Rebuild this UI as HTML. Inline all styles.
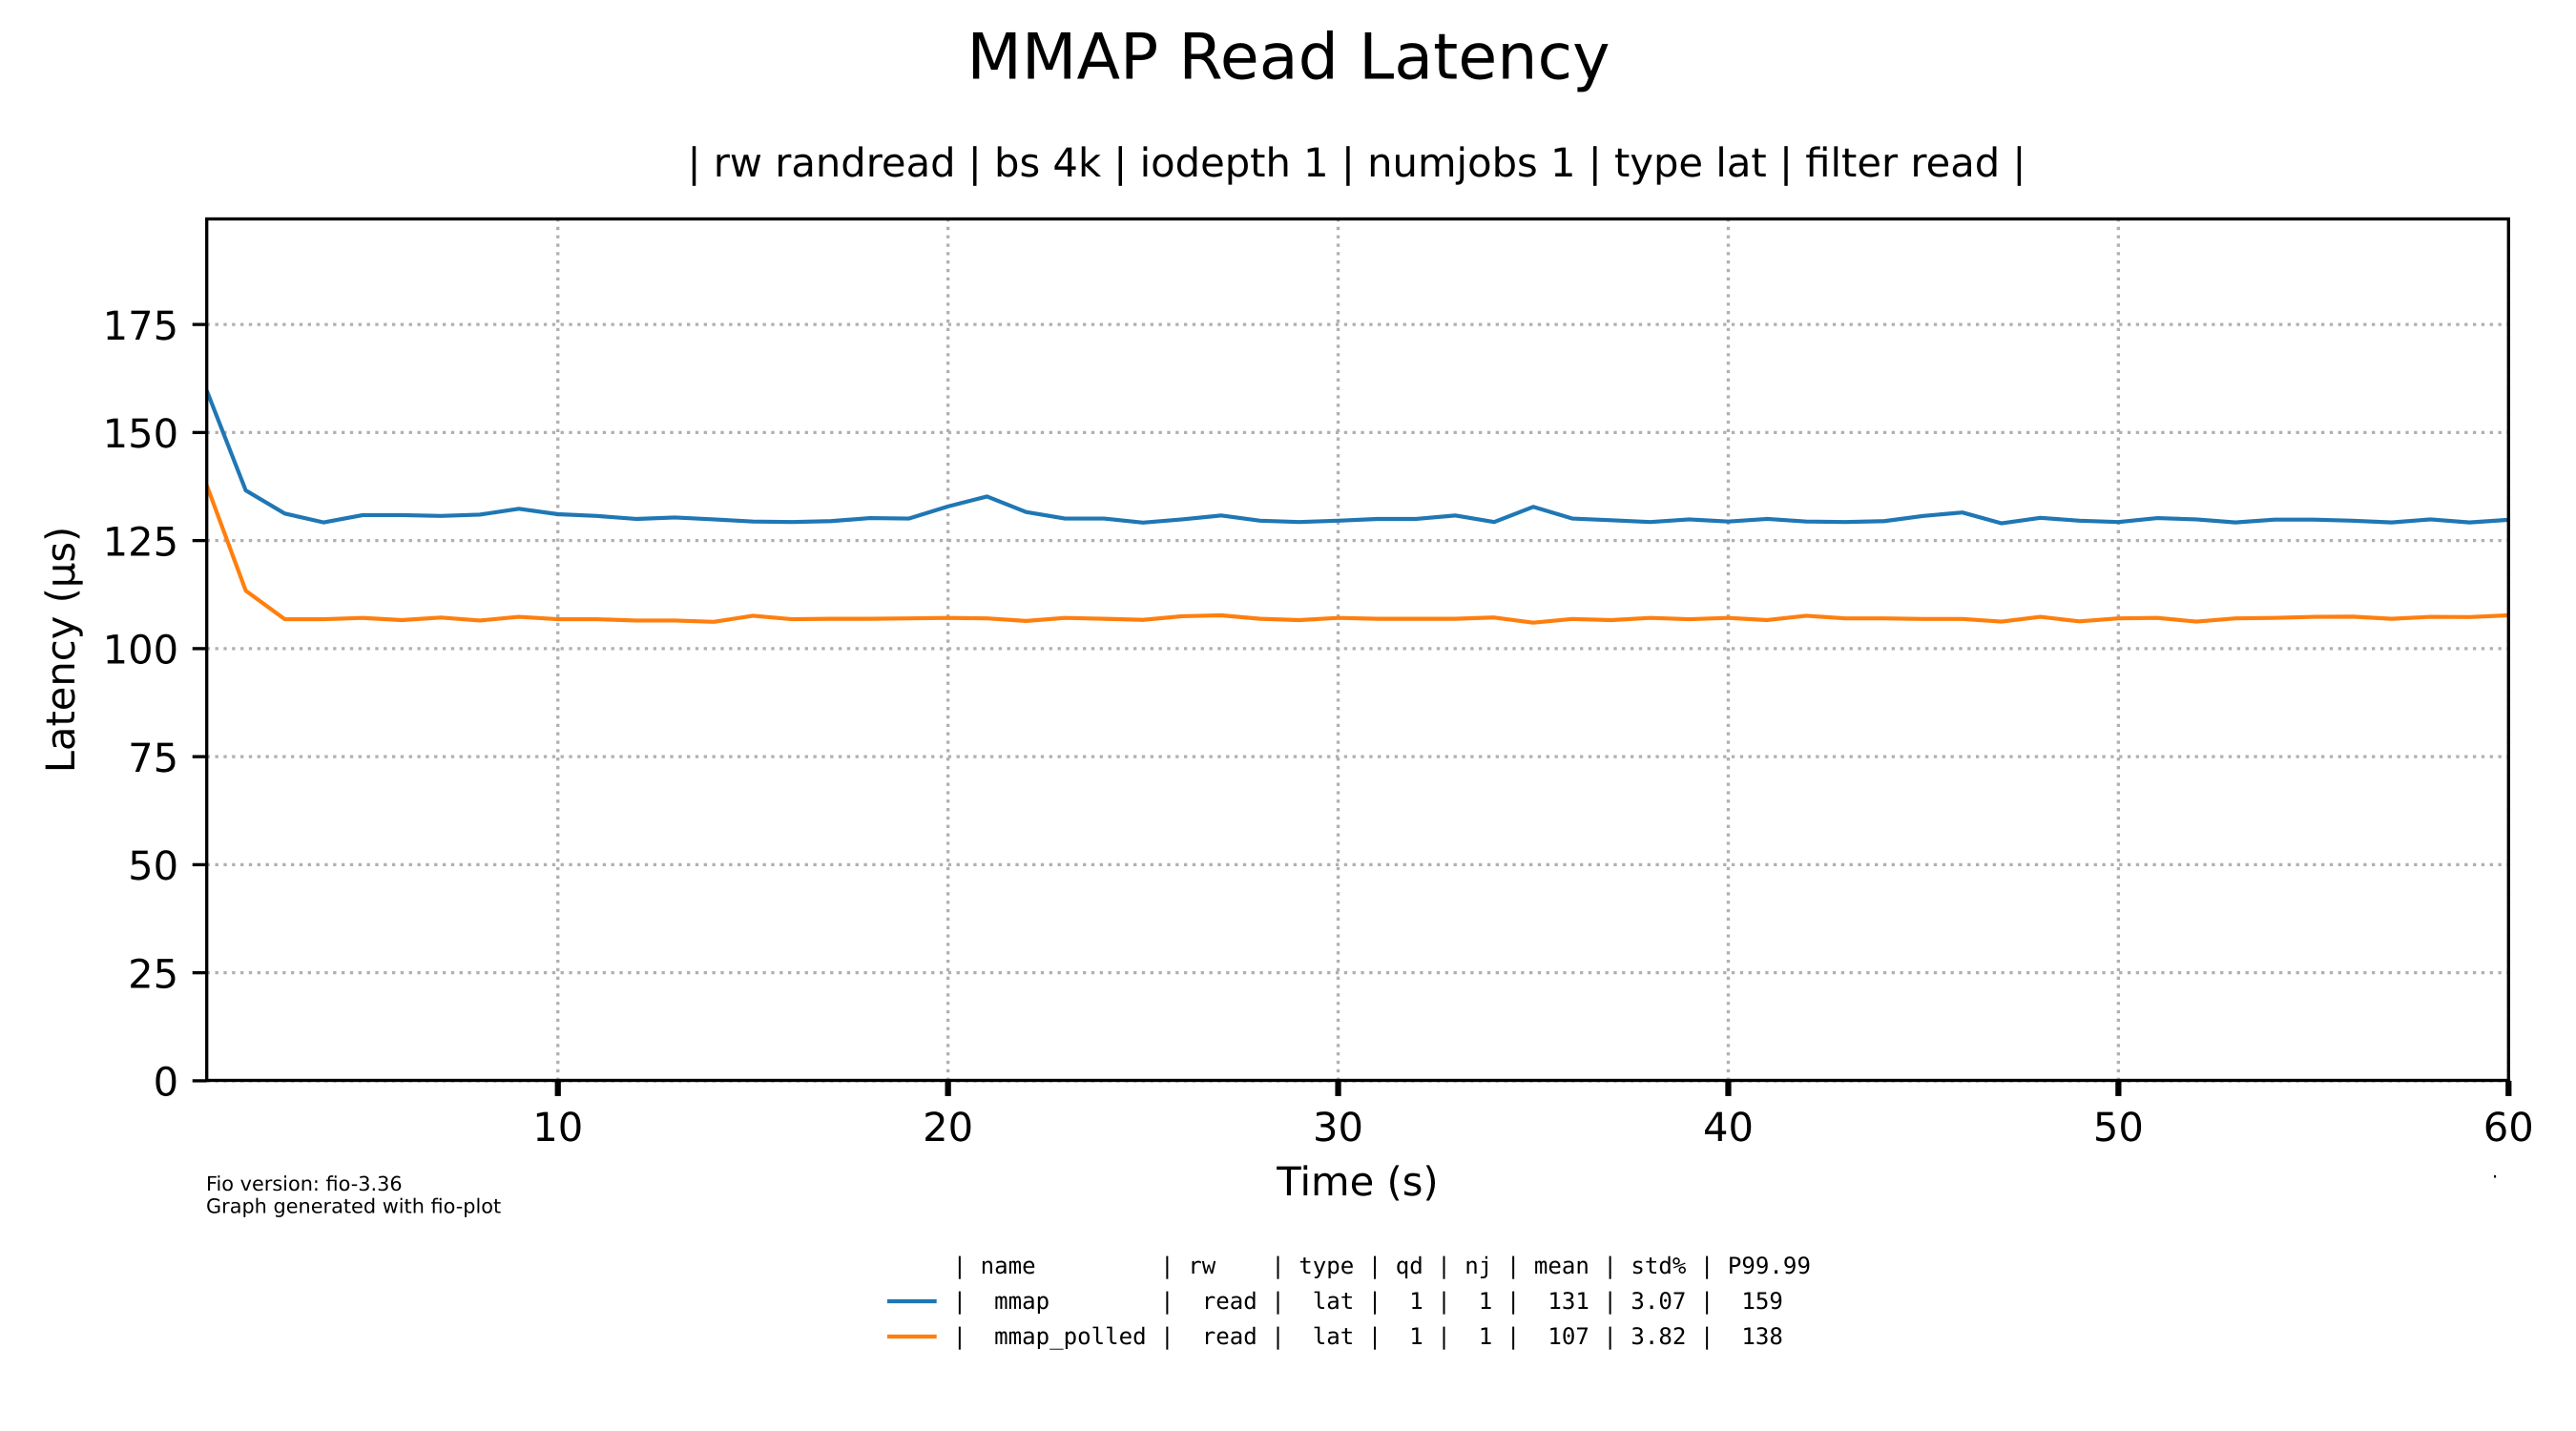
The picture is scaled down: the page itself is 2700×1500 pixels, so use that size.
<!DOCTYPE html>
<html lang="en">
<head>
<meta charset="utf-8">
<title>MMAP Read Latency</title>
<style>
html,body{margin:0;padding:0;background:#fff;width:2700px;height:1500px;overflow:hidden}
svg{display:block}
text{font-family:"DejaVu Sans","Liberation Sans",sans-serif;fill:#000;text-rendering:geometricPrecision}
.mono{font-family:"DejaVu Sans Mono","Liberation Mono",monospace;font-size:24.1px;white-space:pre}
</style>
</head>
<body>
<svg id="chart" xmlns="http://www.w3.org/2000/svg" width="2700" height="1500" viewBox="0 0 2700 1500">
  <defs><clipPath id="plot-clip"><rect x="216.7" y="229.5" width="2412.6" height="903"/></clipPath></defs>
  <rect x="0" y="0" width="2700" height="1500" fill="#fff"/>
  <text x="1350.5" y="82.5" font-size="66.67" text-anchor="middle">MMAP Read Latency</text>
  <text x="1422" y="185" font-size="41.67" text-anchor="middle">| rw randread | bs 4k | iodepth 1 | numjobs 1 | type lat | filter read |</text>
  <g id="grid"></g>
  <g id="series" clip-path="url(#plot-clip)"></g>
  <g id="ticks"></g>
  <rect x="216.7" y="229.5" width="2412.6" height="903" fill="none" stroke="#000" stroke-width="3.33"/>
  <text x="1423" y="1253" font-size="41.67" text-anchor="middle">Time (s)</text>
  <text transform="translate(78 681) rotate(-90)" font-size="41.67" text-anchor="middle">Latency (µs)</text>
  <text x="216" y="1248" font-size="20.83">Fio version: fio-3.36</text>
  <text x="216" y="1271.7" font-size="20.83">Graph generated with fio-plot</text>
  <text x="2611.7" y="1234.5" font-size="20.83">.</text>
  <g>
    <text class="mono" x="998.6" y="1335" xml:space="preserve">| name         | rw    | type | qd | nj | mean | std% | P99.99</text>
    <line x1="930" x2="981.7" y1="1364" y2="1364" stroke="#1f77b4" stroke-width="4.17"/>
    <text class="mono" x="998.6" y="1372" xml:space="preserve">|  mmap        |  read |  lat |  1 |  1 |  131 | 3.07 |  159</text>
    <line x1="930" x2="981.7" y1="1401" y2="1401" stroke="#ff7f0e" stroke-width="4.17"/>
    <text class="mono" x="998.6" y="1409.2" xml:space="preserve">|  mmap_polled |  read |  lat |  1 |  1 |  107 | 3.82 |  138</text>
  </g>
</svg>
<script>
const xTickLabels = [10, 20, 30, 40, 50, 60];
const yTickLabels = [0, 25, 50, 75, 100, 125, 150, 175];
const timeSeconds = [1,2,3,4,5,6,7,8,9,10,11,12,13,14,15,16,17,18,19,20,21,22,23,24,25,26,27,28,29,30,31,32,33,34,35,36,37,38,39,40,41,42,43,44,45,46,47,48,49,50,51,52,53,54,55,56,57,58,59,60];
const mmapValues = [159.7,136.6,131.25,129.2,130.9,130.9,130.7,131.0,132.35,131.1,130.7,130.0,130.35,129.9,129.4,129.3,129.5,130.2,130.1,132.9,135.2,131.6,130.1,130.1,129.15,129.9,130.8,129.6,129.3,129.6,130.0,130.0,130.8,129.3,132.8,130.1,129.7,129.3,129.9,129.4,130.0,129.4,129.3,129.5,130.7,131.5,129.0,130.25,129.6,129.3,130.2,129.9,129.2,129.85,129.85,129.6,129.2,129.9,129.2,129.8];
const mmapPolledValues = [137.8,113.4,106.8,106.8,107.1,106.6,107.2,106.5,107.35,106.8,106.8,106.5,106.5,106.2,107.6,106.8,106.9,106.9,107.0,107.1,107.0,106.4,107.1,106.9,106.65,107.5,107.7,106.9,106.6,107.1,106.9,106.9,106.9,107.2,106.0,106.85,106.6,107.1,106.8,107.1,106.6,107.6,107.0,107.0,106.85,106.85,106.25,107.35,106.3,107.0,107.1,106.25,107.0,107.1,107.35,107.4,106.9,107.35,107.3,107.7];

const xMin = 1, xMax = 60, yMin = 0, yMax = 199.42;
const plotLeft = 216.7, plotRight = 2629.3, plotTop = 229.5, plotBottom = 1132.9;
const NS = 'http://www.w3.org/2000/svg';
function xScale(v) { return plotLeft + (v - xMin) / (xMax - xMin) * (plotRight - plotLeft); }
function yScale(v) { return plotBottom - (v - yMin) / (yMax - yMin) * (plotBottom - plotTop); }
function make(tag, attrs) {
  const el = document.createElementNS(NS, tag);
  for (const k in attrs) el.setAttribute(k, attrs[k]);
  return el;
}
const gridG = document.getElementById('grid');
const ticksG = document.getElementById('ticks');
const seriesG = document.getElementById('series');

yTickLabels.forEach(function (v) {
  const y = yScale(v);
  const g = make('line', {x1: plotLeft, x2: plotRight, y1: y, y2: y, stroke: '#b0b0b0', 'stroke-width': 3.33, 'stroke-dasharray': '3.33 5.5'});
  
  
  gridG.appendChild(g);
  const t = make('line', {x1: plotLeft - 15, x2: plotLeft, y1: y, y2: y, stroke: '#000', 'stroke-width': 3.33});
  
  
  ticksG.appendChild(t);
  const l = make('text', {x: 187.1, y: y + 15.7, 'font-size': 41.67, 'text-anchor': 'end'});
  
  
  l.textContent = String(v);
  ticksG.appendChild(l);
});
xTickLabels.forEach(function (v) {
  const x = xScale(v);
  const g = make('line', {x1: x, x2: x, y1: plotBottom, y2: plotTop, stroke: '#b0b0b0', 'stroke-width': 3.33, 'stroke-dasharray': '3.33 5.5'});
  
  
  gridG.appendChild(g);
  const t = make('line', {x1: x, x2: x, y1: plotBottom, y2: plotBottom + 16, stroke: '#000', 'stroke-width': 6.25});
  
  
  ticksG.appendChild(t);
  const l = make('text', {x: x, y: 1196, 'font-size': 41.67, 'text-anchor': 'middle'});
  
  
  l.textContent = String(v);
  ticksG.appendChild(l);
});
function pointsFor(values) {
  return values.map(function (v, i) { return xScale(timeSeconds[i]).toFixed(2) + ',' + yScale(v).toFixed(2); }).join(' ');
}
const lineMmap = make('polyline', {points: pointsFor(mmapValues), fill: 'none', stroke: '#1f77b4', 'stroke-width': 4.17, 'stroke-linejoin': 'round'});


seriesG.appendChild(lineMmap);
const linePolled = make('polyline', {points: pointsFor(mmapPolledValues), fill: 'none', stroke: '#ff7f0e', 'stroke-width': 4.17, 'stroke-linejoin': 'round'});


seriesG.appendChild(linePolled);
</script>
</body>
</html>
